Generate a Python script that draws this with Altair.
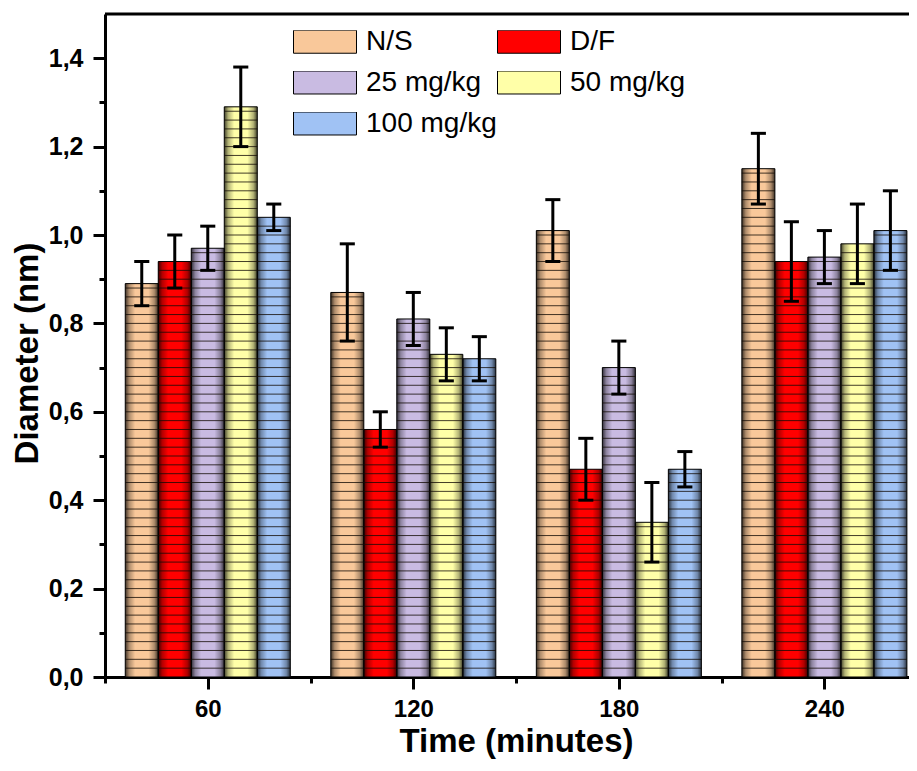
import altair as alt
import pandas as pd

# ---- data ----
times = [60, 120, 180, 240]
series = ["N/S", "D/F", "25 mg/kg", "50 mg/kg", "100 mg/kg"]
ns_mean = [0.89, 0.87, 1.01, 1.15]
ns_err = [0.05, 0.11, 0.07, 0.08]
df_mean = [0.94, 0.56, 0.47, 0.94]
df_err = [0.06, 0.04, 0.07, 0.09]
m25_mean = [0.97, 0.81, 0.70, 0.95]
m25_err = [0.05, 0.06, 0.06, 0.06]
m50_mean = [1.29, 0.73, 0.35, 0.98]
m50_err = [0.09, 0.06, 0.09, 0.09]
m100_mean = [1.04, 0.72, 0.47, 1.01]
m100_err = [0.03, 0.05, 0.04, 0.09]

means = [ns_mean, df_mean, m25_mean, m50_mean, m100_mean]
errs = [ns_err, df_err, m25_err, m50_err, m100_err]
colors = ["#F9C89A", "#FF0000", "#C9BBE2", "#FFFFA8", "#A0C2F4"]

# legend fills column by column: this order gives rows N/S|D/F, 25|50, 100
legend_order = ["N/S", "25 mg/kg", "100 mg/kg", "D/F", "50 mg/kg"]

x_ticks = [30, 60, 90, 120, 150, 180, 210, 240]
y_ticks = [round(0.1 * i, 1) for i in range(15)]

# ---- layout helpers (minutes) ----
BW = 9.635      # bar width in x units
CAP = 2.2       # half cap width
HATCH = 0.02    # hatch spacing in y units
XMIN, XMAX = 30, 264.7

rows, hatch = [], []
for si, s in enumerate(series):
    for ti, t in enumerate(times):
        v = means[si][ti]
        e = errs[si][ti]
        x0 = t + (si - 2.5) * BW
        xc = t + (si - 2) * BW
        rows.append(dict(series=s, time=t, value=v, lo=v - e, hi=v + e,
                         x0=x0, x1=x0 + BW, xc=xc, cl=xc - CAP, cr=xc + CAP))
        k = 1
        while k * HATCH < v - 0.004:
            hatch.append(dict(x0=x0, x1=x0 + BW, y=k * HATCH))
            k += 1
bars = pd.DataFrame(rows)
hatch_df = pd.DataFrame(hatch)

xscale = alt.Scale(domain=[XMIN, XMAX], nice=False, zero=False)
yscale = alt.Scale(domain=[0, 1.5], nice=False)

xaxis = alt.Axis(
    title="Time (minutes)", values=x_ticks,
    labelExpr="datum.value % 60 === 0 ? datum.label : ''",
    tickSize={"condition": {"test": "datum.value % 60 === 0", "value": 12}, "value": 6},
    labelPadding=8, grid=False,
    titleX=411, titleY=64, titleBaseline="middle", titleAnchor="start", titleAlign="center",
)
yaxis = alt.Axis(
    title="Diameter (nm)", values=y_ticks,
    labelExpr="round(datum.value*10) % 2 === 0 ? replace(format(datum.value, '.1f'), '.', ',') : ''",
    tickSize={"condition": {"test": "round(datum.value*10) % 2 === 0", "value": 12}, "value": 6},
    labelPadding=10, labelFontSize=25, grid=False,
    titleX=-78, titleY=339, titleAngle=270, titleBaseline="middle", titleAlign="center",
)

X = alt.X("x0:Q", scale=xscale, axis=xaxis)
Y = alt.Y("value:Q", scale=yscale, axis=yaxis)
Y0 = alt.datum(0)

base = alt.Chart(bars).mark_bar(strokeWidth=0).encode(
    x=X, x2="x1:Q", y=Y, y2=Y0,
    color=alt.Color("series:N",
                    scale=alt.Scale(domain=legend_order,
                                    range=[colors[series.index(s)] for s in legend_order]),
                    legend=alt.Legend(
                        title=None, orient="none", legendX=188, legendY=16,
                        columns=2, padding=0,
                        symbolType="M-1,-0.365L1,-0.365L1,0.365L-1,0.365Z",
                        symbolSize=3969, symbolStrokeColor="black", symbolStrokeWidth=1,
                        symbolOpacity=1, clipHeight=23,
                        labelFont="Liberation Sans", labelFontSize=28, labelColor="black",
                        labelOffset=9, rowPadding=12, columnPadding=0, labelLimit=300,
                    )),
)

shade_grad = alt.LinearGradient(
    gradient="linear", x1=0, x2=1, y1=0, y2=0,
    stops=[
        alt.GradientStop(color="rgba(0,0,0,0.75)", offset=0),
        alt.GradientStop(color="rgba(0,0,0,0.3)", offset=0.12),
        alt.GradientStop(color="rgba(0,0,0,0)", offset=0.3),
        alt.GradientStop(color="rgba(0,0,0,0)", offset=0.7),
        alt.GradientStop(color="rgba(0,0,0,0.3)", offset=0.88),
        alt.GradientStop(color="rgba(0,0,0,0.75)", offset=1),
    ],
)
shade = alt.Chart(bars).mark_bar(color=shade_grad, stroke="black", strokeWidth=1).encode(
    x=X, x2="x1:Q", y=Y, y2=Y0,
)

hatch_layer = alt.Chart(hatch_df).mark_rule(color="#140c06", strokeWidth=1, opacity=0.8).encode(
    x=X, x2="x1:Q", y=alt.Y("y:Q", scale=yscale, axis=yaxis),
)

err = alt.Chart(bars).mark_rule(color="black", strokeWidth=3).encode(
    x=alt.X("xc:Q", scale=xscale, axis=xaxis),
    y=alt.Y("lo:Q", scale=yscale, axis=yaxis), y2="hi:Q",
)
cap_hi = alt.Chart(bars).mark_rule(color="black", strokeWidth=3).encode(
    x=alt.X("cl:Q", scale=xscale, axis=xaxis), x2="cr:Q",
    y=alt.Y("hi:Q", scale=yscale, axis=yaxis),
)
cap_lo = alt.Chart(bars).mark_rule(color="black", strokeWidth=3).encode(
    x=alt.X("cl:Q", scale=xscale, axis=xaxis), x2="cr:Q",
    y=alt.Y("lo:Q", scale=yscale, axis=yaxis),
)

frame = alt.Chart(pd.DataFrame({"a": [0]})).mark_rule(color="black", strokeWidth=3).encode(
    x=alt.datum(XMIN, scale=xscale, axis=xaxis), x2=alt.datum(XMAX),
    y=alt.datum(1.5, scale=yscale, axis=yaxis),
)

chart = alt.layer(base, shade, hatch_layer, err, cap_hi, cap_lo, frame).properties(
    width=804, height=663,
    autosize=alt.AutoSizeParams(type="none"),
    padding={"left": 97, "top": 6, "right": 0, "bottom": 86},
).configure_view(stroke=None).configure_axis(
    domainColor="black", domainWidth=3, tickColor="black", tickWidth=3,
    labelFont="Liberation Sans", labelFontWeight="bold", labelFontSize=24, labelColor="black",
    titleFont="Liberation Sans", titleFontWeight="bold", titleFontSize=33, titleColor="black",
)

chart.save("out.html", embed_options={"renderer": "svg", "actions": False})
